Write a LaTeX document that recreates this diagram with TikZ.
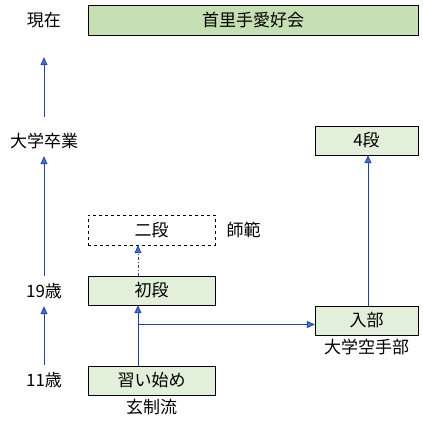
\documentclass[tikz,border=0pt]{standalone}
\usepackage{fontspec}
\setmainfont{Noto Sans CJK JP}
\usepackage{tikz}
\usetikzlibrary{arrows.meta, positioning, calc}

\definecolor{boxgreen}{RGB}{226,239,218}
\definecolor{topgreen}{RGB}{198,224,180}
\definecolor{linkblue}{RGB}{32,64,176}
\definecolor{tipblue}{RGB}{68,114,196}

\begin{document}
\begin{tikzpicture}[x=1pt,y=-1pt,
    font=\fontsize{17}{17}\selectfont,
    stage/.style={draw,fill=boxgreen,minimum width=127pt,minimum height=29pt,inner sep=0pt},
    label/.style={minimum height=30pt,inner sep=0pt},
    link/.style={draw=linkblue,line width=0.8pt,-{Triangle[length=8pt,width=7pt,fill=tipblue]}}]
                \useasboundingbox (0,0) rectangle (423,423);

                % Left column
                \node[label] (now) at (44,20) {現在};
                \node[label] (grad) at (44,141) {大学卒業};
                \node[label] (age19) at (44,291) {19歳};
                \node[label] (age11) at (44,380) {11歳};

                % Stages
                \node[draw,fill=topgreen,minimum width=330pt,minimum height=30pt] (shuri) at (253,20) {首里手愛好会};
                \node[stage,minimum width=103pt] (yon) at (366.5,140.5) {4段};
                \node[stage,fill=none,dashed,minimum height=30pt] (nidan) at (151.5,230) {二段};
                \node[right=8pt of nidan] (shihan) {師範};
                \node[stage] (shodan) at (151.5,290.5) {初段};
                \node[stage,minimum width=103pt] (nyubu) at (366.5,320.5) {入部};
                \node[below=0pt of nyubu] (club) {大学空手部};
                \node[stage] (start) at (151.5,380.5) {習い始め};
                \node[below=0pt of start] (gensei) {玄制流};

                \coordinate (col) at (138,0);
                \coordinate (col2) at (368,0);

                % Edges
                \draw[link] (age11) -- (age19);
                \draw[link] (age19) -- (grad);
                \draw[link,shorten <=9pt,shorten >=22pt] (grad) -- (now);
                \draw[link] (start.north -| col) -- (shodan.south -| col);
                \draw[link,dash dot] (shodan.north -| col) -- (nidan.south -| col);
                \draw[link] ([yshift=-4pt]nyubu.west -| col) -- ([yshift=-4pt]nyubu.west);
                \draw[link] (nyubu.north -| col2) -- (yon.south -| col2);
            \end{tikzpicture}
\end{document}
